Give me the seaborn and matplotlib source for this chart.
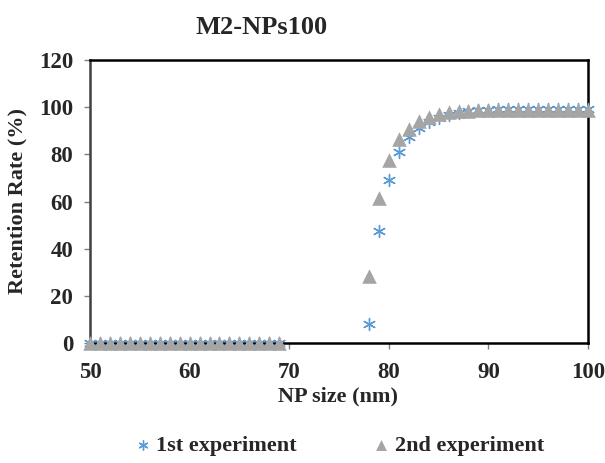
import numpy as np
import pandas as pd
import matplotlib
matplotlib.use("Agg")
import matplotlib.pyplot as plt
import seaborn as sns

# ---- data ----
np_size = [50, 51, 52, 53, 54, 55, 56, 57, 58, 59, 60, 61, 62, 63, 64, 65, 66, 67, 68, 69,
           78, 79, 80, 81, 82, 83, 84, 85, 86, 87, 88, 89, 90, 91, 92, 93, 94, 95, 96, 97, 98, 99, 100]
exp1 = [0] * 20 + [8, 47.5, 69, 81, 87.5, 91.3, 93.6, 95.5, 96.7, 97.6, 98.2, 98.6, 98.9,
                   99.1, 99.2, 99.3, 99.4, 99.4, 99.4, 99.4, 99.4, 99.4, 99.4]
exp2 = [0] * 20 + [28.5, 61.5, 77.5, 86.3, 90.6, 94.0, 96.0, 97.2, 97.9, 98.3, 98.5, 98.7, 98.8,
                   98.9, 98.9, 98.9, 98.9, 98.9, 98.9, 98.9, 98.9, 98.9, 98.9]
series_names = ["1st experiment", "2nd experiment"]
title = "M2-NPs100"
xlabel = "NP size (nm)"
ylabel = "Retention Rate (%)"
xticks = [50, 60, 70, 80, 90, 100]
yticks = [0, 20, 40, 60, 80, 100, 120]

df1 = pd.DataFrame({"x": np_size, "y": exp1})
df2 = pd.DataFrame({"x": np_size, "y": exp2})

sns.set_theme(style="white")
plt.rcParams["font.family"] = ["Liberation Serif", "DejaVu Serif"]
plt.rcParams["font.weight"] = "bold"

fig = plt.figure(figsize=(6.05, 4.63), dpi=100)
ax = fig.add_axes([90 / 605, 1 - 343 / 463, 498 / 605, 283 / 463])

sns.scatterplot(data=df1, x="x", y="y", ax=ax, marker=(6, 2, 0), color="#5B9BD5",
                s=75, linewidth=1.0, label=series_names[0], zorder=3, clip_on=False)
sns.scatterplot(data=df2, x="x", y="y", ax=ax, marker="^", color="#A5A5A5",
                s=110, linewidth=0, label=series_names[1], zorder=4, clip_on=False)

ax.set_xlim(50, 100)
ax.set_ylim(0, 120)
ax.set_xticks(xticks)
ax.set_yticks(yticks)
ax.set_xticklabels([str(t) for t in xticks], fontsize=16.5, fontweight="bold")
ax.set_yticklabels([str(t) for t in yticks], fontsize=16.5, fontweight="bold")
ax.tick_params(axis="both", direction="out", length=4, width=1, color="#7f7f7f",
               left=True, bottom=True, pad=8)
ax.tick_params(axis="x", pad=10)

for side in ["top", "right", "bottom"]:
    ax.spines[side].set_color("black")
    ax.spines[side].set_linewidth(1.8)
ax.spines["left"].set_color("#404040")
ax.spines["left"].set_linewidth(1.8)

ax.set_xlabel(xlabel, fontsize=16, fontweight="bold")
ax.set_ylabel(ylabel, fontsize=16, fontweight="bold")
ax.xaxis.set_label_coords((338 - 90) / 498, (343 - 386) / 283)
ax.yaxis.set_label_coords((27 - 90) / 498, 0.5)

fig.text(262 / 605, 1 - 27 / 463, title, ha="center", va="center",
         fontsize=19, fontweight="bold")

ax.get_legend().remove()
handles, labels = ax.get_legend_handles_labels()
fig.legend(handles, labels, loc="center", ncol=2, frameon=False,
           bbox_to_anchor=(338 / 605, 1 - 446 / 463),
           handletextpad=0.1, columnspacing=3.3, handlelength=1.0, markerscale=0.75,
           prop={"weight": "bold", "size": 16})

fig.savefig("out.png", dpi=100)
